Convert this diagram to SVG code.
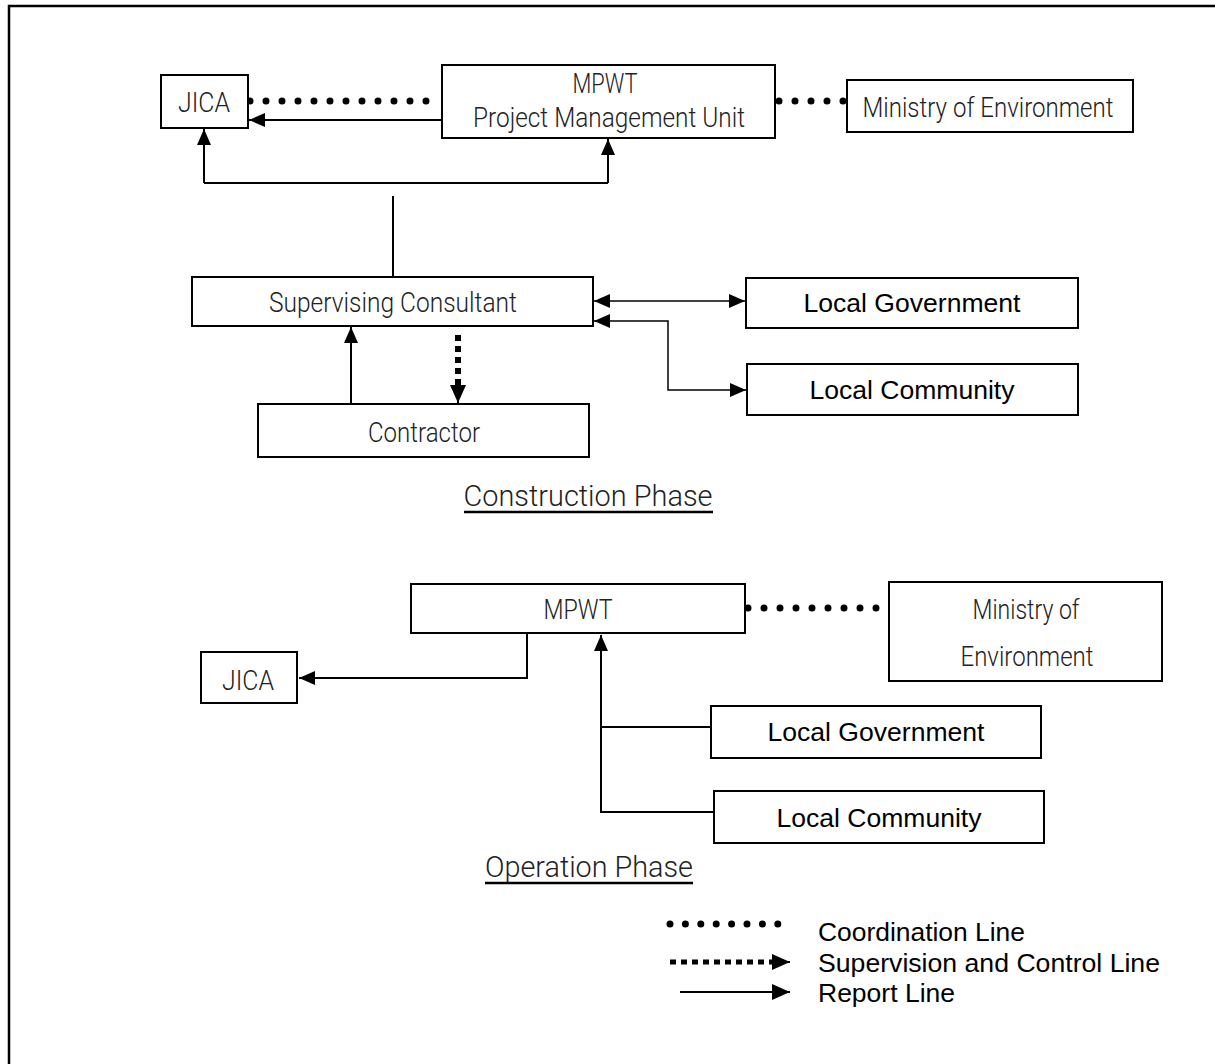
<svg xmlns="http://www.w3.org/2000/svg" width="1215" height="1064" viewBox="0 0 1215 1064">
<style>
.box{fill:#fff;stroke:#000;stroke-width:2}
.lt{font-family:Roboto,"Liberation Sans",sans-serif;font-weight:300;font-size:28px;fill:#222;text-anchor:middle}
.ar{font-family:"Liberation Sans",Arial,sans-serif;font-size:25px;fill:#000;text-anchor:middle}
.lg{font-family:"Liberation Sans",Arial,sans-serif;font-size:25px;fill:#000}
.rep{fill:none;stroke:#000;stroke-width:2}
.thin{fill:none;stroke:#000;stroke-width:1.5}
.dot{fill:none;stroke:#000;stroke-width:7;stroke-linecap:round;stroke-dasharray:0 16}
.sup{fill:none;stroke:#000;stroke-width:6;stroke-dasharray:6 5}
</style>
<defs>
<marker id="arr" viewBox="0 0 16 14" refX="16" refY="7" markerWidth="16" markerHeight="14" markerUnits="userSpaceOnUse" orient="auto-start-reverse">
<path d="M0,0 L16,7 L0,14 Z" fill="#000"/>
</marker>
<marker id="arrb" viewBox="0 0 18 16" refX="18" refY="8" markerWidth="18" markerHeight="16" markerUnits="userSpaceOnUse" orient="auto">
<path d="M0,0 L18,8 L0,16 Z" fill="#000"/>
</marker>
</defs>
<rect x="9" y="6" width="1230" height="1080" fill="#fff" stroke="#000" stroke-width="2.5"/>

<g id="connectors">
<path class="dot" d="M250,101 H440"/>
<path class="dot" d="M779,101 H845"/>
<path class="rep" d="M442,120 H249" marker-end="url(#arr)"/>
<path class="rep" d="M204,183 H608"/>
<path class="rep" d="M204,183 V129" marker-end="url(#arr)"/>
<path class="rep" d="M608,183 V139" marker-end="url(#arr)"/>
<path class="rep" d="M393,196 V277"/>
<path class="thin" d="M594,301 H745" marker-start="url(#arr)" marker-end="url(#arr)"/>
<path class="thin" d="M594,321 H668 V390 H746" marker-start="url(#arr)" marker-end="url(#arr)"/>
<path class="rep" d="M351,403 V327" marker-end="url(#arr)"/>
<path class="sup" d="M458,335 V386"/>
<path class="rep" d="M458,386 V403" marker-end="url(#arrb)"/>
<path class="rep" d="M527,634 V678 H299" marker-end="url(#arr)"/>
<path class="dot" d="M748,608 H880"/>
<path class="rep" d="M714,812 H601 V635" marker-end="url(#arr)"/>
<path class="rep" d="M711,727 H601"/>
</g>

<g id="jica1"><rect class="box" x="161" y="75" width="87" height="53"/><text class="lt" x="204" y="112" textLength="52" lengthAdjust="spacingAndGlyphs">JICA</text></g>
<g id="pmu"><rect class="box" x="442" y="65" width="333" height="73"/><text class="lt" x="605" y="93" textLength="65" lengthAdjust="spacingAndGlyphs">MPWT</text><text class="lt" x="609" y="127" textLength="272" lengthAdjust="spacingAndGlyphs">Project Management Unit</text></g>
<g id="moe1"><rect class="box" x="847" y="80" width="286" height="52"/><text class="lt" x="988" y="117" textLength="251" lengthAdjust="spacingAndGlyphs">Ministry of Environment</text></g>
<g id="sc"><rect class="box" x="192" y="277" width="401" height="49"/><text class="lt" x="393" y="312" textLength="248" lengthAdjust="spacingAndGlyphs">Supervising Consultant</text></g>
<g id="lg1"><rect class="box" x="746" y="278" width="332" height="50"/><text class="ar" x="912" y="312" textLength="217" lengthAdjust="spacingAndGlyphs">Local Government</text></g>
<g id="lc1"><rect class="box" x="747" y="364" width="331" height="51"/><text class="ar" x="912" y="399" textLength="205" lengthAdjust="spacingAndGlyphs">Local Community</text></g>
<g id="contractor"><rect class="box" x="258" y="404" width="331" height="53"/><text class="lt" x="424" y="442" textLength="112" lengthAdjust="spacingAndGlyphs">Contractor</text></g>
<g id="title1"><text class="lt" x="588" y="506" style="font-size:30px" textLength="249" lengthAdjust="spacingAndGlyphs">Construction Phase</text><line x1="464" y1="512" x2="713" y2="512" stroke="#000" stroke-width="2.5"/></g>

<g id="mpwt"><rect class="box" x="411" y="584" width="334" height="49"/><text class="lt" x="578" y="619" textLength="69" lengthAdjust="spacingAndGlyphs">MPWT</text></g>
<g id="moe2"><rect class="box" x="889" y="582" width="273" height="99"/><text class="lt" x="1026" y="619" textLength="107" lengthAdjust="spacingAndGlyphs">Ministry of</text><text class="lt" x="1027" y="666" textLength="133" lengthAdjust="spacingAndGlyphs">Environment</text></g>
<g id="jica2"><rect class="box" x="201" y="652" width="96" height="51"/><text class="lt" x="248" y="690" textLength="52" lengthAdjust="spacingAndGlyphs">JICA</text></g>
<g id="lg2"><rect class="box" x="711" y="706" width="330" height="52"/><text class="ar" x="876" y="741" textLength="217" lengthAdjust="spacingAndGlyphs">Local Government</text></g>
<g id="lc2"><rect class="box" x="714" y="791" width="330" height="52"/><text class="ar" x="879" y="827" textLength="205" lengthAdjust="spacingAndGlyphs">Local Community</text></g>
<g id="title2"><text class="lt" x="589" y="877" style="font-size:30px" textLength="208" lengthAdjust="spacingAndGlyphs">Operation Phase</text><line x1="485" y1="883" x2="693" y2="883" stroke="#000" stroke-width="2.5"/></g>

<g id="legend">
<path class="dot" style="stroke-dasharray:0 15.4" d="M670,924 H779"/>
<path class="sup" style="stroke-width:5" d="M670,962 H773"/>
<path class="rep" d="M773,962 H790" marker-end="url(#arrb)"/>
<path class="rep" d="M680,992 H790" marker-end="url(#arrb)"/>
<text class="lg" x="818" y="941" textLength="207" lengthAdjust="spacingAndGlyphs">Coordination Line</text>
<text class="lg" x="818" y="972" textLength="342" lengthAdjust="spacingAndGlyphs">Supervision and Control Line</text>
<text class="lg" x="818" y="1002" textLength="137" lengthAdjust="spacingAndGlyphs">Report Line</text>
</g>
</svg>
